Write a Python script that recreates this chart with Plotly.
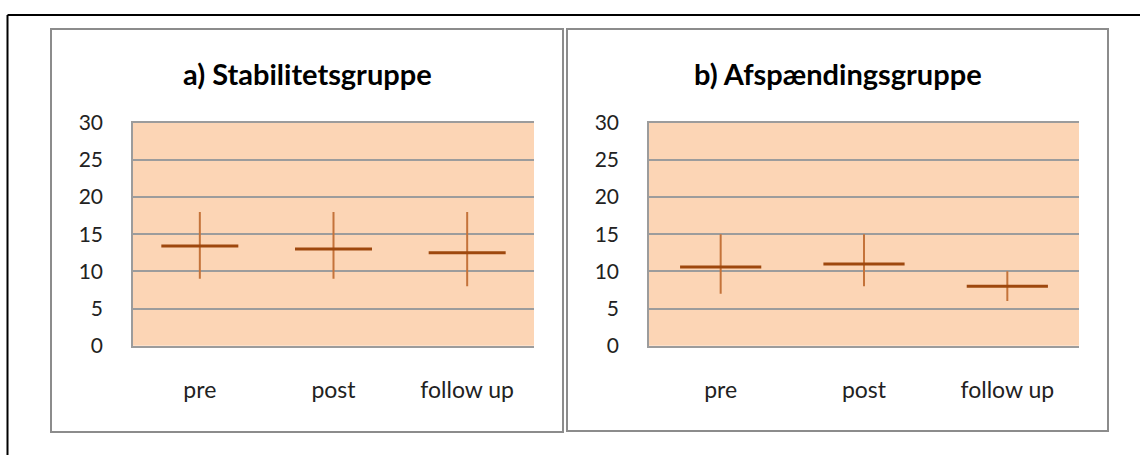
import plotly.graph_objects as go

W, H = 1140, 455

categories = ["pre", "post", "follow up"]
y_ticks = [0, 5, 10, 15, 20, 25, 30]

a_title = "a) Stabilitetsgruppe"
a_mean = [13.4, 13.0, 12.5]
a_low = [9, 9, 8]
a_high = [18, 18, 18]

b_title = "b) Afspændingsgruppe"
b_mean = [10.6, 11.0, 8.0]
b_low = [7, 8, 6]
b_high = [15, 15, 10]

FONT = "Lato"
GRID = "#9C9C9C"
BG = "#FCD5B5"
VCOL = "#C4733A"
HCOL = "#9E480E"


def px(x):
    return x / W


def py(y):
    return 1 - y / H


def trace(mean, low, high, xa, ya, size):
    return go.Scatter(
        x=categories, y=mean, xaxis=xa, yaxis=ya, mode="markers",
        marker=dict(symbol="line-ew", size=size, color=HCOL,
                    line=dict(width=3, color=HCOL)),
        error_y=dict(type="data", symmetric=False,
                     array=[h - m for h, m in zip(high, mean)],
                     arrayminus=[m - l for m, l in zip(mean, low)],
                     thickness=2, width=0, color=VCOL),
        showlegend=False, hoverinfo="skip",
    )


fig = go.Figure()
fig.add_trace(trace(a_mean, a_low, a_high, "x", "y", 55))
fig.add_trace(trace(b_mean, b_low, b_high, "x2", "y2", 58))

ydom = [py(345.7), py(122.7)]
xcommon = dict(type="category", categoryorder="array", categoryarray=categories,
               range=[-0.5, len(categories) - 0.5],
               showgrid=False, zeroline=False,
               showline=True, mirror=True, linecolor=GRID, linewidth=1.5,
               ticks="outside", ticklen=23, tickcolor="rgba(0,0,0,0)",
               tickfont=dict(family=FONT, size=23, color="#222"),
               automargin=False, fixedrange=True)
ycommon = dict(range=[0, 30], tickvals=y_ticks, showgrid=True, gridcolor=GRID,
               gridwidth=1.5, zeroline=False, showline=True, linecolor=GRID,
               linewidth=1.5, ticks="outside", ticklen=24,
               tickcolor="rgba(0,0,0,0)",
               tickfont=dict(family=FONT, size=21, color="#222"),
               automargin=False, fixedrange=True)

fig.update_layout(
    template="none",
    width=W, height=H, margin=dict(l=0, r=0, t=0, b=0, pad=0),
    paper_bgcolor="white", plot_bgcolor=BG, showlegend=False,
    xaxis=dict(domain=[px(133), px(534)], anchor="y", **xcommon),
    yaxis=dict(domain=ydom, anchor="x", **ycommon),
    xaxis2=dict(domain=[px(649), px(1079)], anchor="y2", **xcommon),
    yaxis2=dict(domain=ydom, anchor="x2", **ycommon),
    shapes=[
        dict(type="rect", xref="paper", yref="paper", x0=px(51), x1=px(563),
             y0=py(432), y1=py(29), line=dict(color="#8C8C8C", width=2)),
        dict(type="rect", xref="paper", yref="paper", x0=px(567), x1=px(1108),
             y0=py(431), y1=py(29), line=dict(color="#8C8C8C", width=2)),
        dict(type="line", xref="paper", yref="paper", x0=px(7.5), x1=px(1140),
             y0=py(15), y1=py(15), line=dict(color="black", width=2)),
        dict(type="line", xref="paper", yref="paper", x0=px(7.5), x1=px(7.5),
             y0=py(15), y1=py(455), line=dict(color="black", width=2)),
    ],
    annotations=[
        dict(text="<b>%s</b>" % a_title, xref="paper", yref="paper",
             x=px(307), y=py(73), xanchor="center", yanchor="middle",
             showarrow=False, font=dict(family=FONT, size=29, color="black")),
        dict(text="<b>%s</b>" % b_title, xref="paper", yref="paper",
             x=px(837.5), y=py(73), xanchor="center", yanchor="middle",
             showarrow=False, font=dict(family=FONT, size=29, color="black")),
    ],
)

fig.write_html(
    "out.html",
    config={"displayModeBar": False},
    post_script="document.body.style.margin='0';document.body.style.overflow='hidden';",
)
